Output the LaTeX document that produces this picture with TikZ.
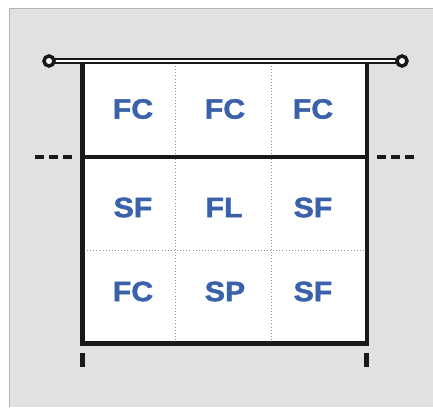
\documentclass[tikz,border=0pt]{standalone}
\usepackage{fontspec}
\setmainfont{Liberation Sans}
\newfontfamily\blkfont{Liberation Sans Bold}[FakeBold=1.6]
\definecolor{bgray}{HTML}{E1E1E1}
\definecolor{edgegray}{HTML}{B4B4B4}
\definecolor{txtblue}{HTML}{3A62AA}
\tikzset{
  lbl/.style={font=\fontsize{28}{28}\blkfont, text=txtblue, xscale=1.08, inner sep=0pt},
  heavy/.style={line width=4.6pt, black!90},
  grid/.style={gray!85, dash pattern=on 0.9pt off 2.2pt, line width=0.8pt},
  dashmark/.style={line width=3.8pt, black!90, dash pattern=on 9pt off 5pt},
}
\begin{document}
\begin{tikzpicture}[x=1pt,y=-1pt]
\useasboundingbox (0,0) rectangle (433,407);
\fill[white] (0,0) rectangle (433,407);
\fill[bgray] (9,8) rectangle (433,407);
\draw[edgegray, line width=1pt] (9,407) -- (9,8.5) -- (433,8.5);
% sheet
\fill[white] (84,63) rectangle (365,342);
\draw[grid] (175,63) -- (175,342);
\draw[grid] (271,63) -- (271,342);
\draw[grid] (84,250) -- (365,250);
\draw[heavy] (82.5,62) -- (82.5,343.5) -- (367,343.5) -- (367,62);
\draw[heavy] (82.5,157) -- (367,157);
% rod
\coordinate (rl) at (49,61);
\coordinate (rr) at (402,61);
\draw[line width=2pt, black!90, double=white, double distance=2pt] (55,61) -- (396,61);
\draw[line width=3.5pt, black!90, fill=white] (rl) circle (5);
\draw[line width=3.5pt, black!90, fill=white] (rr) circle (5);
% side dashes
\draw[dashmark] (35,157) -- (72,157);
\draw[dashmark] (377,157) -- (415,157);
% bottom ticks
\draw[heavy] (82.5,353) -- (82.5,367);
\draw[heavy] (366.5,353) -- (366.5,367);
% labels
\node[lbl] (a1) at (133,109) {FC};
\node[lbl] (a2) at (225,109) {FC};
\node[lbl] (a3) at (313,109) {FC};
\node[lbl] (b1) at (133,207.5) {SF};
\node[lbl] (b2) at (224,207.5) {FL};
\node[lbl] (b3) at (313,207.5) {SF};
\node[lbl] (c1) at (133,291.5) {FC};
\node[lbl] (c2) at (225,291.5) {SP};
\node[lbl] (c3) at (313,291.5) {SF};
\end{tikzpicture}
\end{document}
